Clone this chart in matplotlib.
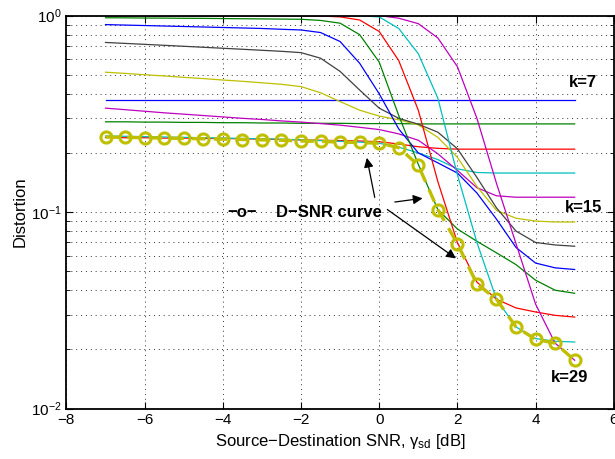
import numpy as np
import matplotlib
matplotlib.use('Agg')
import matplotlib.pyplot as plt

plt.rcParams['font.family'] = ['Liberation Sans', 'DejaVu Sans']
plt.rcParams['mathtext.fontset'] = 'custom'
plt.rcParams['mathtext.rm'] = 'Liberation Sans'
plt.rcParams['mathtext.it'] = 'Liberation Sans:italic'

# SNR grid (dB)
snr = [-7, -6.5, -6, -5.5, -5, -4.5, -4, -3.5, -3, -2.5, -2, -1.5, -1, -0.5,
       0, 0.5, 1, 1.5, 2, 2.5, 3, 3.5, 4, 4.5, 5]

# distortion for each k
k7 = [0.372] * 25
k9 = [0.288, 0.288, 0.287, 0.287, 0.286, 0.286, 0.285, 0.285, 0.284, 0.284, 0.283, 0.283, 0.283,
      0.282, 0.282, 0.282, 0.281, 0.281, 0.281, 0.281, 0.281, 0.281, 0.281, 0.281, 0.281]
k11 = [0.240, 0.239, 0.239, 0.238, 0.238, 0.237, 0.237, 0.236, 0.235, 0.234, 0.233, 0.232, 0.231,
       0.230, 0.228, 0.222, 0.215, 0.211, 0.209, 0.209, 0.209, 0.209, 0.209, 0.209, 0.209]
k13 = [0.244, 0.243, 0.242, 0.241, 0.240, 0.239, 0.238, 0.237, 0.236, 0.235, 0.233, 0.231, 0.229,
       0.227, 0.224, 0.214, 0.200, 0.185, 0.166, 0.159, 0.158, 0.158, 0.158, 0.158, 0.158]
k15 = [0.338, 0.332, 0.326, 0.320, 0.315, 0.310, 0.305, 0.300, 0.296, 0.291, 0.287, 0.282, 0.277,
       0.270, 0.263, 0.250, 0.232, 0.198, 0.163, 0.133, 0.121, 0.119, 0.119, 0.119, 0.119]
k17 = [0.515, 0.508, 0.500, 0.493, 0.485, 0.478, 0.470, 0.463, 0.455, 0.447, 0.435, 0.405, 0.365,
       0.330, 0.308, 0.295, 0.278, 0.240, 0.190, 0.135, 0.102, 0.093, 0.090, 0.089, 0.089]
k19 = [0.730, 0.722, 0.714, 0.706, 0.698, 0.690, 0.682, 0.674, 0.666, 0.658, 0.648, 0.607, 0.520,
       0.418, 0.338, 0.300, 0.280, 0.255, 0.210, 0.150, 0.105, 0.080, 0.070, 0.068, 0.067]
k21 = [0.900, 0.895, 0.890, 0.885, 0.880, 0.875, 0.870, 0.865, 0.860, 0.852, 0.845, 0.820, 0.738,
       0.572, 0.400, 0.265, 0.200, 0.178, 0.158, 0.125, 0.092, 0.066, 0.055, 0.052, 0.051]
k23 = [0.975, 0.974, 0.972, 0.971, 0.969, 0.968, 0.966, 0.964, 0.962, 0.960, 0.958, 0.945, 0.915,
       0.800, 0.580, 0.310, 0.175, 0.103, 0.082, 0.071, 0.062, 0.054, 0.045, 0.040, 0.0386]
k25 = [0.998, 0.998, 0.998, 0.998, 0.998, 0.998, 0.998, 0.998, 0.998, 0.998, 0.997, 0.995, 0.985,
       0.950, 0.830, 0.590, 0.330, 0.143, 0.070, 0.044, 0.036, 0.0325, 0.031, 0.0298, 0.0292]
k27 = [1.0, 1.0, 1.0, 1.0, 1.0, 1.0, 1.0, 1.0, 1.0, 1.0, 1.0, 1.0, 1.0,
       0.998, 0.985, 0.860, 0.640, 0.380, 0.155, 0.070, 0.036, 0.026, 0.0227, 0.0220, 0.0218]
k29 = [1.0, 1.0, 1.0, 1.0, 1.0, 1.0, 1.0, 1.0, 1.0, 1.0, 1.0, 1.0, 1.0,
       1.0, 1.0, 0.970, 0.910, 0.770, 0.550, 0.300, 0.140, 0.069, 0.034, 0.0215, 0.0176]
dsnr = [0.241, 0.240, 0.239, 0.238, 0.237, 0.236, 0.235, 0.234, 0.233, 0.232, 0.230, 0.229, 0.227,
        0.226, 0.224, 0.213, 0.173, 0.103, 0.069, 0.043, 0.036, 0.026, 0.0225, 0.0215, 0.0176]

curves = [k7, k9, k11, k13, k15, k17, k19, k21, k23, k25, k27, k29]

# old matlab color order
colors = [(0, 0, 1), (0, 0.5, 0), (1, 0, 0), (0, 0.75, 0.75),
          (0.75, 0, 0.75), (0.75, 0.75, 0), (0.25, 0.25, 0.25)]

fig = plt.figure(figsize=(6.15, 4.59), dpi=100)
ax = fig.add_axes([0.108, 0.110, 0.890, 0.856])

for i, c in enumerate(curves):
    ax.semilogy(snr, c, color=colors[i % len(colors)], linewidth=0.9)

ax.semilogy(snr, dsnr, '--o', color=(0.75, 0.75, 0), linewidth=2.4,
            markersize=8, markerfacecolor='none', markeredgewidth=2.2, dashes=(4, 2.5))

ax.set_xlim(-8, 6)
ax.set_ylim(1e-2, 1)
ax.set_xticks([-8, -6, -4, -2, 0, 2, 4, 6])
ax.set_xticklabels(['\u22128', '\u22126', '\u22124', '\u22122', '0', '2', '4', '6'])

ax.grid(True, which='major', linestyle=(0, (1, 4)), color='0.2', linewidth=0.7)
ax.grid(True, which='minor', axis='y', linestyle=(0, (1, 4)), color='0.2', linewidth=0.7)
ax.tick_params(which='both', direction='in', top=True, right=True, labelsize=11)
ax.tick_params(which='major', length=5)
ax.tick_params(which='minor', length=3)
for s in ax.spines.values():
    s.set_linewidth(1.3)

ax.set_xlabel('Source\u2212Destination SNR, \u03b3$_{\\mathrm{sd}}$ [dB]', fontsize=12, labelpad=3)
ax.set_ylabel('Distortion', fontsize=12, labelpad=2)

ax.text(5.22, 0.454, 'k=7', fontsize=12, fontweight='bold', ha='center', va='center')
ax.text(5.22, 0.106, 'k=15', fontsize=12, fontweight='bold', ha='center', va='center')
ax.text(4.88, 0.0144, 'k=29', fontsize=12, fontweight='bold', ha='center', va='center')

ax.text(-3.5, 0.1, '\u2212o\u2212', fontsize=12, fontweight='bold', ha='center', va='center')
ax.text(-2.63, 0.1, 'D\u2212SNR curve', fontsize=12, fontweight='bold', ha='left', va='center')

arrow = dict(arrowstyle='-|>', color='black', linewidth=0.9, mutation_scale=14)
ax.annotate('', xy=(-0.33, 0.195), xytext=(-0.1, 0.115), arrowprops=arrow)
ax.annotate('', xy=(1.18, 0.118), xytext=(0.33, 0.112), arrowprops=arrow)
ax.annotate('', xy=(2.02, 0.057), xytext=(0.15, 0.105), arrowprops=arrow)

plt.savefig('out.png', dpi=100)
